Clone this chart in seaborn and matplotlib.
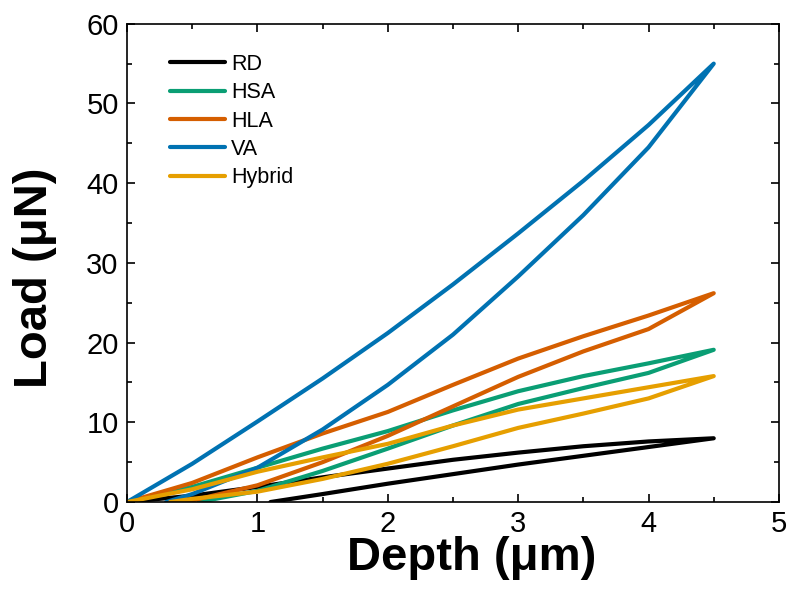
import matplotlib
matplotlib.use("Agg")
import matplotlib.pyplot as plt
from matplotlib.ticker import MultipleLocator
import seaborn as sns
import pandas as pd

# ---- data ----
samples = ["RD", "HSA", "HLA", "VA", "Hybrid"]
colors = ["#000000", "#0A9E74", "#D55E00", "#0072B2", "#E69F00"]

# branch from the origin up to the peak (upper curve) for each sample
upper_depth = [0.0, 0.5, 1.0, 1.5, 2.0, 2.5, 3.0, 3.5, 4.0, 4.5]
rd_upper = [0.0, 0.8, 1.9, 3.1, 4.2, 5.3, 6.2, 7.0, 7.6, 8.0]
hsa_upper = [0.0, 1.9, 4.3, 6.7, 8.9, 11.5, 13.9, 15.8, 17.4, 19.1]
hla_upper = [0.0, 2.4, 5.6, 8.6, 11.3, 14.7, 18.0, 20.8, 23.4, 26.2]
va_upper = [0.0, 4.8, 10.1, 15.5, 21.2, 27.3, 33.7, 40.3, 47.3, 55.0]
hybrid_upper = [0.0, 1.6, 3.8, 5.6, 7.3, 9.6, 11.6, 13.0, 14.4, 15.8]

# branch from the peak back to zero load (lower curve)
rd_lower_depth = [4.5, 4.0, 3.5, 3.0, 2.5, 2.0, 1.5, 1.1]
rd_lower = [8.0, 6.9, 5.8, 4.7, 3.5, 2.3, 1.0, 0.0]
hsa_lower_depth = [4.5, 4.0, 3.5, 3.0, 2.5, 2.0, 1.5, 1.0, 0.55]
hsa_lower = [19.1, 16.2, 14.3, 12.3, 9.6, 6.7, 3.9, 1.4, 0.0]
hla_lower_depth = [4.5, 4.0, 3.5, 3.0, 2.5, 2.0, 1.5, 1.0, 0.45]
hla_lower = [26.2, 21.7, 18.9, 15.7, 12.0, 8.3, 5.0, 2.1, 0.0]
va_lower_depth = [4.5, 4.0, 3.5, 3.0, 2.5, 2.0, 1.5, 1.0, 0.5, 0.3]
va_lower = [55.0, 44.5, 36.0, 28.3, 21.0, 14.7, 9.1, 4.3, 1.0, 0.0]
hybrid_lower_depth = [4.5, 4.0, 3.5, 3.0, 2.5, 2.0, 1.5, 1.0, 0.5, 0.33]
hybrid_lower = [15.8, 13.0, 11.1, 9.3, 7.0, 4.8, 2.9, 1.3, 0.4, 0.0]

x_ticks = [0, 1, 2, 3, 4, 5]
y_ticks = [0, 10, 20, 30, 40, 50, 60]

uppers = [rd_upper, hsa_upper, hla_upper, va_upper, hybrid_upper]
lower_depths = [rd_lower_depth, hsa_lower_depth, hla_lower_depth, va_lower_depth, hybrid_lower_depth]
lowers = [rd_lower, hsa_lower, hla_lower, va_lower, hybrid_lower]

rows = []
for name, up, ld, lo in zip(samples, uppers, lower_depths, lowers):
    order = 0
    for d, l in zip(upper_depth, up):
        rows.append((name, order, d, l)); order += 1
    for d, l in zip(ld, lo):
        rows.append((name, order, d, l)); order += 1
df = pd.DataFrame(rows, columns=["sample", "order", "depth", "load"])

# ---- style ----
sns.set_style("ticks")
plt.rcParams["font.family"] = ["Liberation Sans", "DejaVu Sans"]

fig = plt.figure(figsize=(7.94, 6.10), dpi=100)
ax = fig.add_axes([0.160, 0.177, 0.821, 0.784])

sns.lineplot(data=df, x="depth", y="load", hue="sample", hue_order=samples,
             palette=colors, sort=False, estimator=None, linewidth=3.0, ax=ax)
for ln in ax.get_lines():
    ln.set_solid_joinstyle("round")

ax.set_xlim(0, 5)
ax.set_ylim(0, 60)
ax.set_xticks(x_ticks)
ax.set_yticks(y_ticks)
ax.xaxis.set_minor_locator(MultipleLocator(0.5))
ax.yaxis.set_minor_locator(MultipleLocator(5))
ax.tick_params(which="both", direction="in", top=True, right=True, width=1.2,
               labelsize=21, colors="black")
ax.tick_params(which="major", length=6)
ax.tick_params(which="minor", length=3.5)
ax.tick_params(axis="x", pad=6)
ax.tick_params(axis="y", pad=6)
for s in ax.spines.values():
    s.set_linewidth(1.2)
    s.set_color("black")
    s.set_visible(True)

ax.set_xlabel("Depth (\u03bcm)", fontsize=34, fontweight="bold", color="black")
ax.set_ylabel("Load (\u03bcN)", fontsize=34, fontweight="bold", color="black")
ax.xaxis.set_label_coords(0.528, -0.072)
ax.yaxis.set_label_coords(-0.108, 0.47)

leg = ax.legend(loc="upper left", bbox_to_anchor=(0.066, 0.937), frameon=False,
                fontsize=15.5, handlelength=2.55, handletextpad=0.28,
                labelspacing=0.34, borderpad=0, borderaxespad=0,
                labelcolor="black")
for h in leg.get_lines():
    h.set_linewidth(3.0)

fig.savefig("out.png", dpi=100)
